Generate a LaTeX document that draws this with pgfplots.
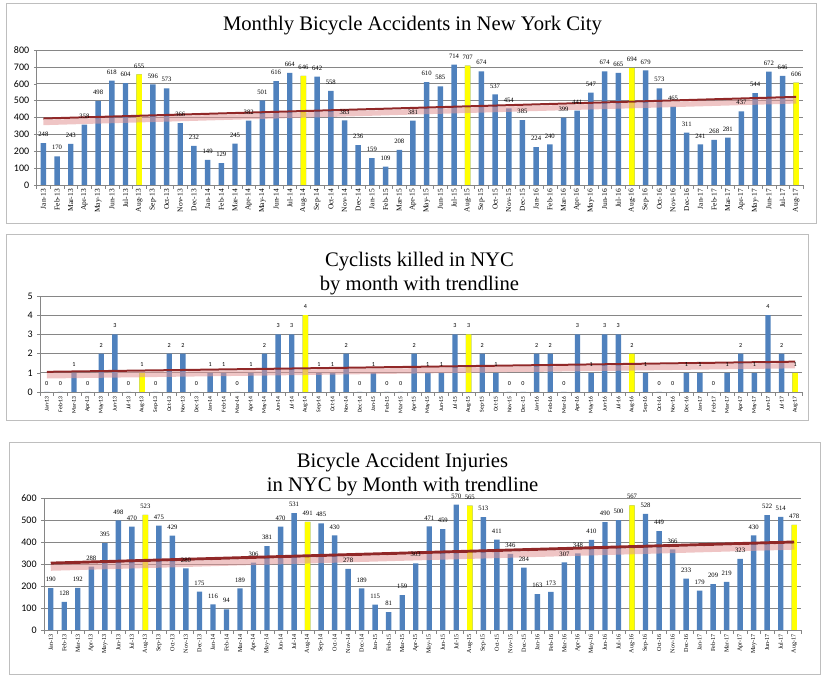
\documentclass[border=0pt]{standalone}
\usepackage{fontspec}
\setmainfont{Liberation Serif}
\setsansfont{Carlito}
\usepackage{pgfplots}
\usepackage{pgfplotstable}
\pgfplotsset{compat=1.18}

\definecolor{barblue}{RGB}{79,129,189}
\definecolor{baryel}{RGB}{255,255,0}
\definecolor{trend}{RGB}{145,40,40}
\definecolor{glow}{RGB}{225,150,150}
\definecolor{gridc}{RGB}{134,134,134}
\definecolor{boxc}{RGB}{190,190,190}

% month index, accidents, cyclists killed, injuries
\pgfplotstableread{
x acc killed inj
0 248 0 190
1 170 0 128
2 243 1 192
3 358 0 288
4 498 2 395
5 618 3 498
6 604 0 470
7 655 1 523
8 596 0 475
9 573 2 429
10 366 2 280
11 232 0 175
12 149 1 116
13 129 1 94
14 245 0 189
15 382 1 306
16 501 2 381
17 616 3 470
18 664 3 531
19 646 4 491
20 642 1 485
21 558 1 430
22 383 2 278
23 236 0 189
24 159 1 115
25 109 0 81
26 208 0 159
27 381 2 303
28 610 1 471
29 585 1 459
30 714 3 570
31 707 3 565
32 674 2 513
33 537 1 411
34 454 0 346
35 385 0 284
36 224 2 163
37 240 2 173
38 399 0 307
39 441 3 348
40 547 1 410
41 674 3 490
42 665 3 500
43 694 2 567
44 679 1 528
45 573 0 449
46 465 0 366
47 311 1 233
48 241 1 179
49 268 0 209
50 281 1 219
51 437 2 323
52 544 1 430
53 672 4 522
54 646 2 514
55 606 1 478
}\nyc

\pgfplotsset{
  monthly/.style={
    scale only axis, anchor=south west, clip=false,
    xmin=-0.5, xmax=55.5,
    xtick={0,...,55},
    xticklabels={Jan-13,Feb-13,Mar-13,Apr-13,May-13,Jun-13,Jul-13,Aug-13,Sep-13,Oct-13,Nov-13,Dec-13,
      Jan-14,Feb-14,Mar-14,Apr-14,May-14,Jun-14,Jul-14,Aug-14,Sep-14,Oct-14,Nov-14,Dec-14,
      Jan-15,Feb-15,Mar-15,Apr-15,May-15,Jun-15,Jul-15,Aug-15,Sep-15,Oct-15,Nov-15,Dec-15,
      Jan-16,Feb-16,Mar-16,Apr-16,May-16,Jun-16,Jul-16,Aug-16,Sep-16,Oct-16,Nov-16,Dec-16,
      Jan-17,Feb-17,Mar-17,Apr-17,May-17,Jun-17,Jul-17,Aug-17},
    minor xtick={-0.5,0.5,...,55.5},
    axis lines*=left,
    axis line style={gridc},
    ymajorgrids, grid style={gridc, line width=0.5pt},
    tick align=outside,
    major x tick style={draw=none},
    minor x tick style={gridc},
    minor tick length=3pt,
    ytick style={gridc},
    major tick length=2pt,
    x tick label style={rotate=90, anchor=east, inner sep=1pt},
    y tick label style={font=\sffamily\fontsize{7.5}{9}\selectfont},
    /pgf/number format/assume math mode=true,
  },
  blubar/.style={ybar, bar width=0.4, bar shift=0pt, fill=barblue, draw=none,
    nodes near coords, point meta=y,
    every node near coord/.append style={anchor=center, yshift=6.4pt, text=black, inner sep=0pt}},
  yelbar/.style={ybar, bar width=0.4, bar shift=0pt, fill=baryel, draw=none},
}

\begin{document}
\begin{tikzpicture}
\useasboundingbox (0,0) rectangle (619.5pt,509.25pt);

% panel frames
\draw[boxc, line width=0.75pt] (4.5pt,341.25pt) rectangle (612pt,506.25pt);
\draw[boxc, line width=0.75pt] (4.5pt,193.5pt) rectangle (606pt,333pt);
\draw[boxc, line width=0.75pt] (7pt,3pt) rectangle (615pt,177pt);

\node[font=\fontsize{15.5}{18}\selectfont] at (309.4pt,489.75pt) {Monthly Bicycle Accidents in New York City};
\node[font=\fontsize{15.5}{18}\selectfont, align=center] at (314.6pt,303.75pt) {Cyclists killed in NYC\\by month with trendline};
\node[font=\fontsize{15.5}{18}\selectfont, align=center] at (301.9pt,153pt) {Bicycle Accident Injuries\\in NYC by Month with trendline};

% accidents
\begin{axis}[monthly, at={(27.4pt,370.5pt)}, width=574.9pt, height=101.25pt,
  ymin=0, ymax=800, ytick={0,100,...,800},
  x tick label style={font=\fontsize{5.6}{6}\selectfont},
  nodes near coords style={font=\fontsize{5}{6}\selectfont}]
\addplot[blubar] table[x=x, y=acc] {\nyc};
\addplot[yelbar] coordinates {(7,655) (19,646) (31,707) (43,694) (55,606)};
\addplot[glow, line width=4pt, opacity=0.55, yshift=-3pt] coordinates {(0,394) (55,522)};
\addplot[trend, line width=1.5pt] coordinates {(0,394) (55,522)};
\end{axis}

% killed
\begin{axis}[monthly, at={(30pt,215.25pt)}, width=571.5pt, height=72pt,
  ymin=0, ymax=5, ytick={0,1,...,5},
  x tick label style={font=\sffamily\fontsize{4.3}{5}\selectfont},
  nodes near coords style={font=\sffamily\fontsize{4.6}{5}\selectfont}]
\addplot[blubar] table[x=x, y=killed] {\nyc};
\addplot[yelbar] coordinates {(7,1) (19,4) (31,3) (43,2) (55,1)};
\addplot[glow, line width=4pt, opacity=0.55, yshift=-3pt] coordinates {(0,1.05) (55,1.58)};
\addplot[trend, line width=1.5pt] coordinates {(0,1.05) (55,1.58)};
\end{axis}

% injuries
\begin{axis}[monthly, at={(33pt,36.75pt)}, width=567.75pt, height=99pt,
  ymin=0, ymax=600, ytick={0,100,...,600},
  x tick label style={font=\fontsize{4.6}{5}\selectfont},
  nodes near coords style={font=\fontsize{5}{6}\selectfont}]
\addplot[blubar] table[x=x, y=inj] {\nyc};
\addplot[yelbar] coordinates {(7,523) (19,491) (31,565) (43,567) (55,478)};
\addplot[glow, line width=4.5pt, opacity=0.55, yshift=-3.5pt] coordinates {(0,304) (55,400)};
\addplot[trend, line width=2.2pt] coordinates {(0,304) (55,400)};
\end{axis}
\end{tikzpicture}
\end{document}
